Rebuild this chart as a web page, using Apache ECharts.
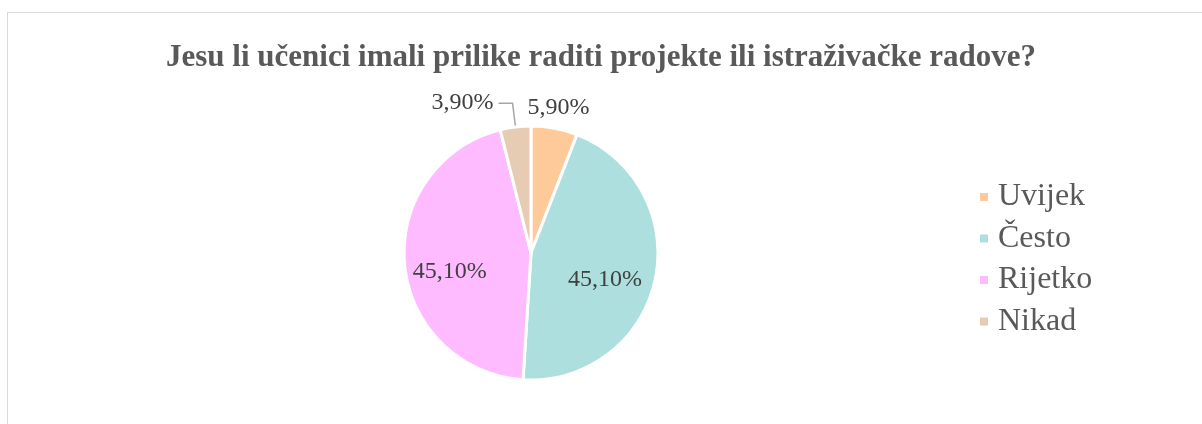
<!DOCTYPE html>
<html>
<head>
<meta charset="utf-8">
<script src="https://cdn.jsdelivr.net/npm/echarts@6/dist/echarts.min.js"></script>
<style>
  html, body { margin: 0; padding: 0; background: #fff; }
  .frame {
    position: absolute; left: 7px; top: 12px; width: 1210px; height: 430px;
    border: 1px solid #d9d9d9; box-sizing: border-box;
  }
  #chart { position: absolute; left: 0; top: 0; width: 1202px; height: 424px; }
</style>
</head>
<body>
<div class="frame"></div>
<div id="chart"></div>
<script>
// 类别与数值
const categories = ['Uvijek', 'Često', 'Rijetko', 'Nikad']
const values = [5.9, 45.1, 45.1, 3.9]
const colors = ['#ffca99', '#acdfde', '#ffbbff', '#e5ccb3']

const chart = echarts.init(document.getElementById('chart'))

// 每个扇区的标签位置不同
const labelSetup = [
  { label: { position: 'outside', offset: [-33, -15] }, labelLine: { show: false, length: 6, length2: 0 } },
  { label: { position: 'inside', offset: [9, 12] } },
  { label: { position: 'inside', offset: [-15, 13] } },
  { label: { position: 'outside' }, labelLine: { show: true, length: 24, length2: 14 } }
]

const option = {
  title: {
    text: 'Jesu li učenici imali prilike raditi projekte ili istraživačke radove?',
    left: 'center',
    top: 37,
    textStyle: {
      fontFamily: 'Liberation Serif',
      fontSize: 31,
      fontWeight: 'bold',
      color: '#595959'
    }
  },
  legend: {
    orient: 'vertical',
    left: 973,
    top: 176,
    itemWidth: 10,
    itemHeight: 10,
    itemGap: 9.5,
    icon: 'rect',
    data: categories,
    textStyle: {
      fontFamily: 'Liberation Serif',
      fontSize: 32,
      lineHeight: 32,
      padding: [0, 0, 0, 4],
      color: '#595959'
    }
  },
  series: [
    {
      type: 'pie',
      center: [531, 253],
      radius: 127,
      startAngle: 90,
      clockwise: true,
      avoidLabelOverlap: false,
      animation: false,
      itemStyle: { borderColor: '#fff', borderWidth: 3 },
      label: {
        fontFamily: 'Liberation Serif',
        fontSize: 24,
        color: '#404040',
        formatter: (p) => p.value.toFixed(2).replace('.', ',') + '%'
      },
      labelLine: { lineStyle: { color: '#a6a6a6', width: 1.5 } },
      data: categories.map((name, i) => ({
        name,
        value: values[i],
        itemStyle: { color: colors[i] },
        ...labelSetup[i]
      }))
    }
  ]
}

chart.setOption(option)
</script>
</body>
</html>
